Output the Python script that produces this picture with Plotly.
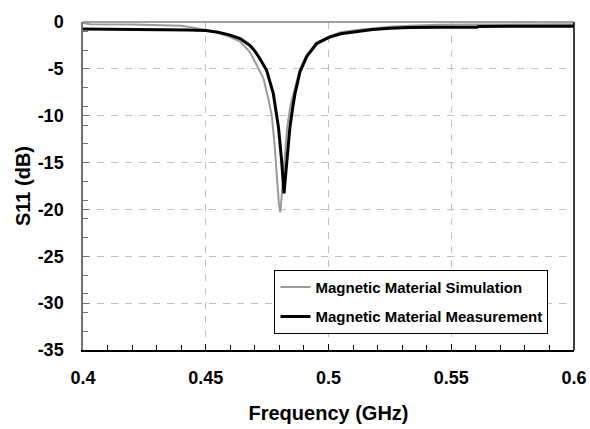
import plotly.graph_objects as go

# Simulation (gray)
freq_sim = [0.400, 0.403, 0.420, 0.430, 0.440, 0.445, 0.450, 0.455, 0.460, 0.464,
            0.468, 0.4707, 0.4735, 0.4755, 0.4769, 0.4780, 0.4789, 0.4798, 0.4804,
            0.4812, 0.4822, 0.4832, 0.4846, 0.4864, 0.4884, 0.4911, 0.4952, 0.5006,
            0.505, 0.5115, 0.518, 0.525, 0.533, 0.545, 0.560, 0.600]
s11_sim = [-0.10, -0.25, -0.27, -0.33, -0.40, -0.60, -0.85, -1.15, -1.60, -2.10,
           -3.2, -4.6, -6.0, -8.2, -10.0, -13.0, -16.5, -19.4, -20.3,
           -17.6, -14.0, -11.2, -8.8, -7.0, -5.0, -3.5, -2.2, -1.5,
           -1.1, -0.85, -0.65, -0.50, -0.40, -0.30, -0.27, -0.25]

# Measurement (black)
freq_meas = [0.400, 0.420, 0.440, 0.443, 0.450, 0.455, 0.460, 0.464, 0.468, 0.470,
             0.472, 0.4748, 0.4775, 0.4796, 0.4809, 0.4816, 0.4819, 0.4823, 0.4830,
             0.4843, 0.4855, 0.4864, 0.4884, 0.4911, 0.4952, 0.5006, 0.505, 0.5115,
             0.518, 0.525, 0.533, 0.545, 0.5605, 0.561, 0.600]
s11_meas = [-0.75, -0.76, -0.78, -0.85, -0.92, -1.10, -1.40, -1.77, -2.50, -3.10,
            -3.90, -5.15, -7.6, -11.2, -14.8, -17.0, -18.3, -17.0, -14.8,
            -11.2, -9.0, -7.6, -5.3, -3.7, -2.3, -1.6, -1.25, -1.0,
            -0.8, -0.66, -0.58, -0.57, -0.56, -0.47, -0.46]

x_ticks = [0.4, 0.45, 0.5, 0.55, 0.6]
x_tick_labels = ["0.4", "0.45", "0.5", "0.55", "0.6"]
y_ticks = [0, -5, -10, -15, -20, -25, -30, -35]
y_tick_labels = ["0", "-5", "-10", "-15", "-20", "-25", "-30", "-35"]

FONT = "Liberation Sans, Arial, sans-serif"

fig = go.Figure()
fig.add_trace(go.Scatter(x=freq_sim, y=s11_sim, mode="lines",
                         name="Magnetic Material Simulation",
                         legendgroup="a",
                         line=dict(color="#9a9a9a", width=2)))
fig.add_trace(go.Scatter(x=freq_meas, y=s11_meas, mode="lines",
                         name="Magnetic Material Measurement",
                         legendgroup="b",
                         line=dict(color="black", width=3)))

fig.update_layout(
    width=590, height=429,
    margin=dict(l=83, r=16, t=22, b=79, autoexpand=False),
    paper_bgcolor="white", plot_bgcolor="white",
    font=dict(family=FONT, color="black"),
    showlegend=True,
    legend=dict(x=0.39, y=0.245, xanchor="left", yanchor="top",
                bgcolor="white", bordercolor="black", borderwidth=1,
                font=dict(family=FONT, size=15, color="black", weight="bold"),
                traceorder="grouped", tracegroupgap=7),
    shapes=[
        dict(type="line", xref="paper", yref="paper", x0=0, x1=1, y0=1, y1=1,
             line=dict(color="#808080", width=1.5)),
        dict(type="line", xref="paper", yref="paper", x0=1, x1=1, y0=0, y1=1,
             line=dict(color="black", width=1.5)),
    ],
)

fig.update_xaxes(
    range=[0.4, 0.6], tickvals=x_ticks, ticktext=x_tick_labels,
    automargin=False,
    showline=True, linecolor="black", linewidth=1.5,
    ticks="inside", ticklen=6, tickcolor="black",
    tickfont=dict(family=FONT, size=18, weight="bold"),
    ticklabelstandoff=11,
    showgrid=True, gridcolor="#c0c0c0", griddash="7px,7px", gridwidth=1,
    zeroline=False,
    minor=dict(dtick=0.01, tick0=0.4, ticks="inside", ticklen=5, tickcolor="black",
               showgrid=False),
    title=dict(text="Frequency (GHz)", font=dict(family=FONT, size=20, weight="bold"),
               standoff=19),
)
fig.update_yaxes(
    range=[-35, 0], tickvals=y_ticks, ticktext=y_tick_labels,
    automargin=False,
    showline=True, linecolor="#707070", linewidth=1.5,
    ticks="inside", ticklen=6, tickcolor="#707070",
    tickfont=dict(family=FONT, size=18, weight="bold"),
    ticklabelstandoff=14,
    showgrid=True, gridcolor="#c0c0c0", griddash="7px,7px", gridwidth=1,
    zeroline=False,
    minor=dict(dtick=2, tick0=-35, ticks="inside", ticklen=5, tickcolor="#707070",
               showgrid=False),
    title=dict(text="S11 (dB)", font=dict(family=FONT, size=20, weight="bold"),
               standoff=2),
)

fig.write_html("out.html", config={"displayModeBar": False},
               post_script="document.body.style.margin='0';document.body.style.overflow='hidden';")
